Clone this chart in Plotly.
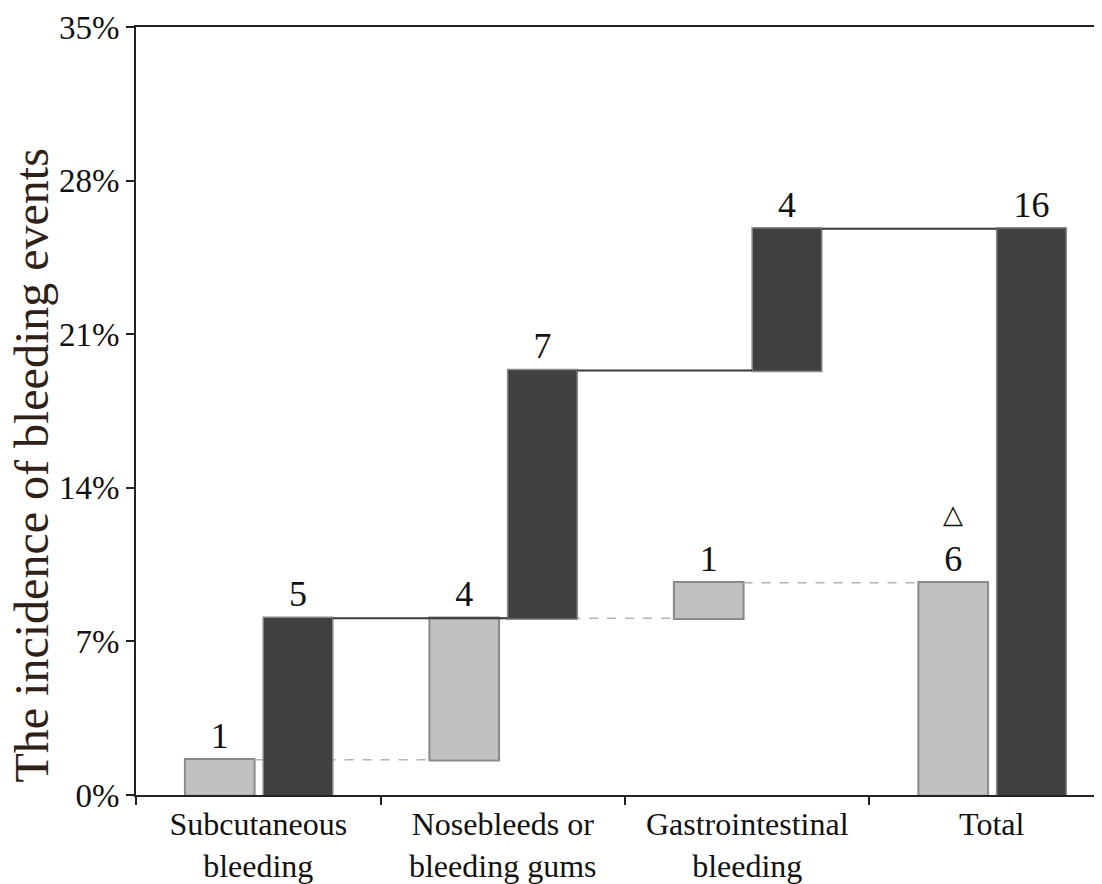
import plotly.graph_objects as go

categories = ["Subcutaneous<br>bleeding", "Nosebleeds or<br>bleeding gums",
              "Gastrointestinal<br>bleeding", "Total"]
measures = ["relative", "relative", "relative", "total"]

# incidence (%)
light_pct = [1.61, 6.45, 1.61, 0]
dark_pct = [8.06, 11.29, 6.45, 0]
light_counts = ["1", "4", "1", "6"]
dark_counts = ["5", "7", "4", "16"]

y_ticks = [0, 7, 14, 21, 28, 35]
y_tick_labels = ["0%", "7%", "14%", "21%", "28%", "35%"]

FONT = "Liberation Serif, Times New Roman, serif"
BAR_W = 0.285
LIGHT_OFF = -0.30
DARK_OFF = 0.02

fig = go.Figure()
fig.add_trace(go.Waterfall(
    x=categories, y=light_pct, measure=measures,
    text=light_counts, textposition="outside",
    textfont=dict(family=FONT, size=36, color="#111"),
    offset=LIGHT_OFF, width=BAR_W,
    increasing=dict(marker=dict(color="#c0c0c0", line=dict(color="#8a8a8a", width=2))),
    decreasing=dict(marker=dict(color="#c0c0c0", line=dict(color="#8a8a8a", width=2))),
    totals=dict(marker=dict(color="#c0c0c0", line=dict(color="#8a8a8a", width=2))),
    connector=dict(line=dict(color="#b4b4b4", width=1.5, dash="dash")),
    cliponaxis=False, showlegend=False, hoverinfo="skip",
))
fig.add_trace(go.Waterfall(
    x=categories, y=dark_pct, measure=measures,
    text=dark_counts, textposition="outside",
    textfont=dict(family=FONT, size=36, color="#111"),
    offset=DARK_OFF, width=BAR_W,
    increasing=dict(marker=dict(color="#404040", line=dict(color="#8a8a8a", width=1.5))),
    decreasing=dict(marker=dict(color="#404040", line=dict(color="#8a8a8a", width=1.5))),
    totals=dict(marker=dict(color="#404040", line=dict(color="#8a8a8a", width=1.5))),
    connector=dict(line=dict(color="#3a3a3a", width=2)),
    cliponaxis=False, showlegend=False, hoverinfo="skip",
))

# triangle marker above the light total bar
fig.add_annotation(
    x=3 + LIGHT_OFF + BAR_W / 2, y=12.8, xref="x", yref="y",
    text="△", showarrow=False, font=dict(family="DejaVu Sans", size=26, color="#111"),
)

# y-axis title
fig.add_annotation(
    x=-104 / 966, y=0.429, xref="paper", yref="paper",
    text="The incidence of bleeding events", textangle=-90, showarrow=False,
    xanchor="center", yanchor="middle",
    font=dict(family=FONT, size=48, color="#2e2218"),
)

fig.update_layout(
    width=1094, height=876, autosize=False,
    margin=dict(l=128, r=0, t=19, b=85),
    paper_bgcolor="white", plot_bgcolor="white",
    font=dict(family=FONT, color="#111"),
    waterfallmode="overlay",
    xaxis=dict(
        type="category", range=[-0.5, 3.451],
        tickson="boundaries", ticks="outside", ticklen=8, tickwidth=2, tickcolor="#222",
        showline=True, linecolor="#222", linewidth=2, mirror=True,
        showgrid=False, zeroline=False,
        tickfont=dict(family=FONT, size=32, color="#111"),
    ),
    yaxis=dict(
        range=[0, 35], tickmode="array", tickvals=y_ticks, ticktext=y_tick_labels,
        ticks="outside", ticklen=8, tickwidth=2, tickcolor="#222",
        showline=True, linecolor="#222", linewidth=2,
        showgrid=False, zeroline=False,
        tickfont=dict(family=FONT, size=33, color="#111"),
    ),
)

fig.write_html("out.html")
